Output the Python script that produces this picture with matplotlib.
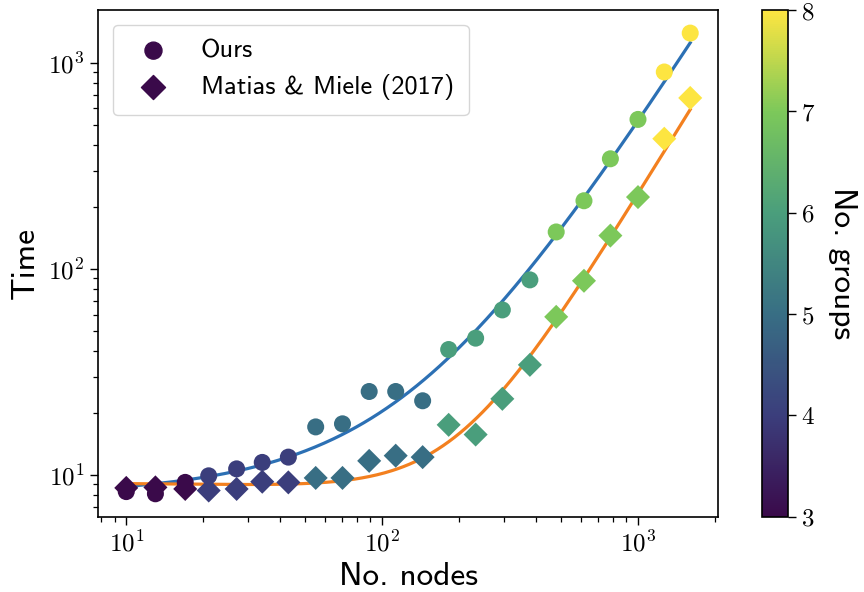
import numpy as np
import matplotlib
matplotlib.use("Agg")
import matplotlib.pyplot as plt
from matplotlib.colors import LinearSegmentedColormap
from matplotlib.ticker import FuncFormatter, LogLocator, NullFormatter

plt.rcParams['mathtext.fontset'] = 'cm'
plt.rcParams['font.family'] = ['cmss10', 'DejaVu Sans']
plt.rcParams['axes.unicode_minus'] = False

# Problem sizes (number of nodes) and number of groups per instance
nodes = [10, 13, 17, 21, 27, 34, 43, 55, 70, 89, 113, 144, 182, 232,
         295, 378, 479, 615, 780, 1000, 1267, 1600]
groups = [3, 3, 3, 4, 4, 4, 4, 5, 5, 5, 5, 5, 6, 6, 6, 6, 7, 7, 7, 7, 8, 8]

# Running times
time_ours = [8.3, 8.1, 9.2, 9.9, 10.7, 11.5, 12.2, 17.1, 17.7, 25.4, 25.4,
             22.9, 40.6, 46.1, 63.2, 88.4, 151, 214, 342, 531, 902, 1393]
time_mm = [8.65, 8.7, 8.55, 8.4, 8.55, 9.27, 9.2, 9.67, 9.67, 11.7, 12.4,
           12.2, 17.5, 15.7, 23.4, 34.2, 58.5, 87.5, 145, 223, 428, 675]

label_ours = "Ours"
label_mm = "Matias & Miele (2017)"

# Softened viridis-like palette
palette = ['#3a0a4a', '#3b3e7c', '#386e84', '#4a9e7c', '#7cc85a', '#fde541']
cmap = LinearSegmentedColormap.from_list('soft_viridis', palette)

n = np.array(nodes, dtype=float)
t1 = np.array(time_ours)
t2 = np.array(time_mm)

# Quadratic trend fitted with relative weights
grid = np.geomspace(n.min(), n.max(), 300)
fit1 = np.polyval(np.polyfit(n, t1, 2, w=1.0 / t1), grid)
fit2 = np.polyval(np.polyfit(n, t2, 2, w=1.0 / t2), grid)

fig = plt.figure(figsize=(8.64, 5.92), dpi=100)
ax = fig.add_axes([0.1135, 0.127, 0.718, 0.856])
cax = fig.add_axes([0.882, 0.127, 0.0295, 0.856])

ax.plot(grid, fit1, color='#2c70b4', lw=2.3, zorder=1)
ax.plot(grid, fit2, color='#f3801f', lw=2.3, zorder=1)

sc = ax.scatter(n, t1, c=groups, cmap=cmap, vmin=3, vmax=8,
                marker='o', s=150, edgecolors='none', zorder=2, label=label_ours)
ax.scatter(n, t2, c=groups, cmap=cmap, vmin=3, vmax=8,
           marker='D', s=150, edgecolors='none', zorder=2, label=label_mm)

ax.set_xscale('log')
ax.set_yscale('log')

fmt = FuncFormatter(lambda v, p: r'$10^{%d}$' % round(np.log10(v)))
for axis in (ax.xaxis, ax.yaxis):
    axis.set_major_locator(LogLocator(base=10))
    axis.set_major_formatter(fmt)
    axis.set_minor_formatter(NullFormatter())

ax.tick_params(which='major', length=6, width=1.0, labelsize=18, pad=4)
ax.tick_params(which='minor', length=3.5, width=0.9)
for sp in ax.spines.values():
    sp.set_linewidth(1.2)

ax.set_xlabel("No. nodes", fontsize=24, labelpad=4)
ax.set_ylabel("Time", fontsize=24, labelpad=6)

leg = ax.legend(loc='upper left', fontsize=19, frameon=True, borderpad=0.55,
                handletextpad=0.8, labelspacing=0.45, borderaxespad=0.55)
for h in leg.legend_handles:
    h.set_color(cmap(0.0))
leg.get_frame().set_edgecolor('#cccccc')

cb = fig.colorbar(sc, cax=cax)
cb.set_ticks([3, 4, 5, 6, 7, 8])
cb.ax.yaxis.set_major_formatter(FuncFormatter(lambda v, p: r'$%d$' % round(v)))
cb.ax.tick_params(labelsize=18, length=6, width=1.0)
cb.outline.set_linewidth(1.2)
cb.set_label("No. groups", fontsize=24, rotation=270, labelpad=30)

fig.savefig("out.png", dpi=100)
